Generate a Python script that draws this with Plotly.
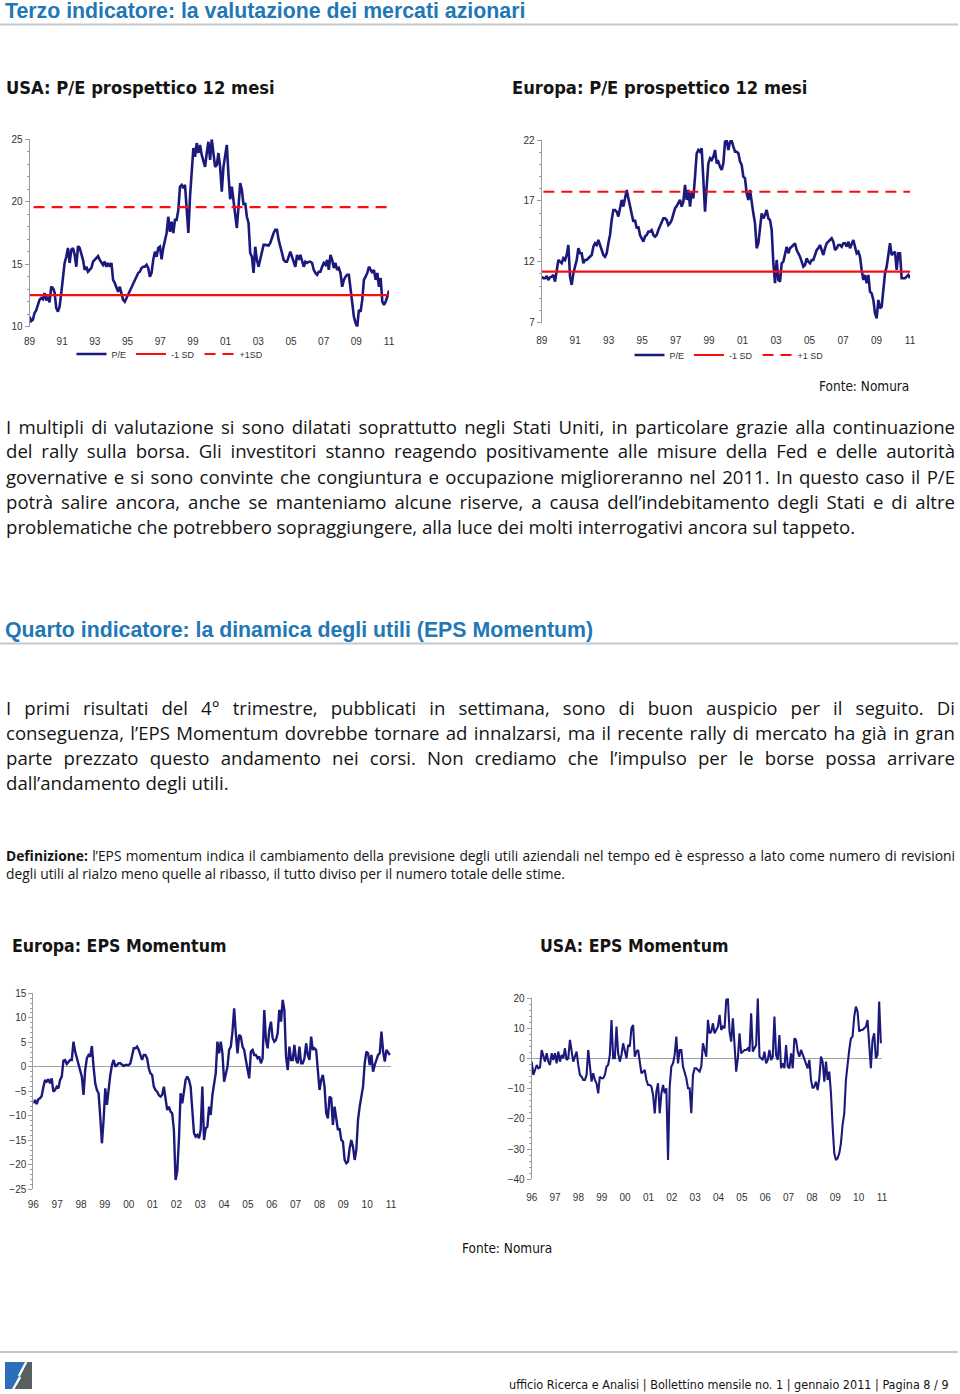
import json
import re
import numpy as np
import plotly.graph_objects as go

W, H = 960, 1394


def px(x):
    return x / W


def py(y):
    return 1 - y / H


# ---------------- DATA ----------------
# USA forward 12m P/E, Jan 1989 - Dec 2010
usa_pe = [
    10.8, 10.45, 10.55, 11.1, 11.3, 11.7, 12.15, 12.3, 12.2, 12.7,
    12.1, 12.4, 11.95, 13.2, 13.1, 12.75, 11.5, 11.2, 11.6, 12.7,
    13.75, 15.1, 15.6, 16.3, 15.1, 16.15, 16.3, 15.75, 14.8, 16.45,
    16.3, 15.9, 15.35, 14.55, 14.8, 14.4, 14.55, 14.7, 15.2, 15.35,
    15.5, 15.65, 15.35, 15.1, 14.95, 15.2, 14.8, 15.1, 14.8, 15.1,
    13.75, 13.5, 13.1, 12.8, 13.2, 12.7, 12.15, 12.0, 12.3, 12.55,
    12.8, 13.2, 13.5, 13.75, 14.0, 14.3, 14.4, 14.7, 14.8, 14.8,
    14.95, 14.7, 14.0, 14.3, 15.35, 16.0, 15.6, 16.3, 16.4, 15.4,
    16.3, 16.95, 17.5, 18.8, 17.6, 18.4, 17.5, 18.55, 18.55, 19.35,
    21.2, 21.35, 21.1, 21.35, 19.35, 17.5, 20.4, 22.3, 24.3, 23.6,
    24.7, 23.9, 24.55, 23.75, 23.35, 22.8, 23.9, 24.8, 23.35, 25.0,
    23.9, 22.8, 22.95, 23.9, 22.8, 20.8, 22.8, 23.6, 24.55, 22.15,
    20.2, 21.2, 20.15, 19.1, 17.9, 19.6, 21.5, 20.95, 19.75, 19.9,
    18.8, 18.3, 15.9, 15.6, 14.3, 16.4, 15.35, 14.8, 15.35, 15.9,
    16.55, 16.55, 16.55, 16.5, 16.7, 17.2, 17.5, 17.75, 17.75, 16.95,
    16.3, 15.9, 15.35, 15.2, 15.2, 15.6, 16.0, 15.6, 15.1, 14.8,
    15.75, 15.35, 15.75, 15.2, 14.8, 15.2, 15.1, 15.2, 15.2, 15.1,
    14.55, 14.3, 14.15, 14.4, 14.4, 14.8, 15.1, 14.95, 15.35, 14.55,
    15.75, 15.35, 14.7, 15.1, 14.55, 14.7, 14.3, 13.2, 13.75, 14.0,
    14.15, 14.15, 12.95, 11.6, 10.8, 10.3, 10.0, 11.35, 11.2, 12.15,
    13.75, 14.0, 14.3, 14.8, 14.55, 14.3, 14.55, 13.75, 14.3, 13.2,
    13.9, 12.0, 11.75, 12.0, 12.4, 12.9,
]
usa_minus_sd = 12.53
usa_plus_sd = 19.57

# Europe forward 12m P/E, Jan 1989 - Dec 2010
eur_pe = [
    10.78, 10.65, 10.65, 10.84, 10.51, 10.72, 10.78, 10.92, 10.37, 11.19,
    12.15, 12.01, 11.88, 12.29, 12.15, 12.56, 13.38, 10.78, 10.1, 11.06,
    11.6, 12.15, 13.11, 12.7, 12.7, 11.88, 12.15, 12.15, 12.29, 12.42,
    12.56, 13.24, 13.52, 13.38, 13.79, 13.38, 12.97, 12.56, 12.42, 12.7,
    13.52, 14.2, 15.43, 16.25, 16.25, 16.12, 15.71, 16.39, 17.08, 16.53,
    17.21, 17.9, 17.21, 16.53, 15.98, 15.3, 15.43, 14.75, 14.89, 14.2,
    13.93, 13.66, 14.07, 14.2, 14.48, 14.48, 14.61, 14.2, 14.07, 14.2,
    14.61, 14.89, 15.3, 15.57, 15.57, 15.43, 15.02, 15.16, 15.43, 15.98,
    16.39, 16.58, 16.8, 17.08, 16.53, 16.94, 18.31, 17.08, 17.9, 16.53,
    17.76, 17.21, 18.99, 20.91, 21.18, 21.04, 21.32, 18.72, 16.12, 18.17,
    20.08, 20.5, 20.36, 20.63, 21.18, 20.08, 20.22, 19.81, 19.54, 20.08,
    21.86, 21.95, 21.18, 21.86, 21.95, 21.45, 21.04, 21.04, 20.91, 20.22,
    19.95, 18.99, 18.85, 17.62, 17.08, 17.9, 16.66, 15.98, 15.16, 13.11,
    13.52, 14.89, 15.98, 15.57, 15.84, 16.25, 15.57, 15.43, 14.61, 11.88,
    10.24, 12.15, 10.51, 10.37, 11.88, 12.01, 12.7, 13.24, 12.7, 13.11,
    13.24, 13.38, 13.52, 12.97, 12.7, 12.42, 12.01, 11.6, 11.74, 12.29,
    12.01, 11.88, 12.15, 12.15, 12.56, 12.97, 13.11, 13.38, 12.97, 12.56,
    13.11, 13.52, 13.66, 13.79, 13.93, 13.66, 12.97, 13.11, 13.38, 13.38,
    13.24, 13.52, 13.52, 13.24, 13.66, 13.11, 13.52, 13.79, 13.24, 12.7,
    12.83, 12.42, 11.33, 10.51, 10.92, 10.24, 10.92, 9.55, 9.41, 8.87,
    7.77, 7.36, 8.87, 8.18, 8.32, 9.69, 11.06, 11.6, 12.42, 13.52,
    12.56, 12.7, 12.83, 11.33, 12.7, 12.7, 10.65, 10.65, 10.65, 10.78,
    10.92, 10.65,
]
eur_minus_sd = 11.2
eur_plus_sd = 17.75

# Europe EPS momentum, 1996 - 2010
eps_eur = [
    -7.45, -6.77, -7.59, -6.63, -6.43, -5.95, -4.18, -2.69, -3.03, -2.55,
    -3.37, -2.35, -5.07, -4.73, -4.05, -4.39, -2.69, -2.01, 1.26, 1.39,
    0.58, 1.05, 1.39, 1.39, 5.14, 3.1, 1.73, 0.37, -0.99, -2.01,
    -5.75, -0.65, 1.73, 2.41, 2.07, 4.25, 0.03, -3.37, -4.73, -5.41,
    -10.17, -15.61, -10.85, -4.39, -7.79, -4.05, -1.67, 0.37, 1.39, 0.03,
    0.37, 0.71, 0.71, 0.37, 0.17, 0.37, 0.37, 0.37, 0.71, 2.07,
    3.78, 3.78, 4.12, 3.44, 2.41, 1.39, 2.41, 2.41, 1.73, -0.31,
    -1.33, -1.67, -4.05, -4.73, -5.07, -5.75, -6.09, -5.75, -4.05, -6.09,
    -8.81, -8.13, -9.15, -9.49, -12.89, -23.1, -21.4, -14.9, -5.4, -7.45,
    -4.73, -2.69, -2.01, -2.69, -4.05, -9.49, -13.57, -14.25, -13.91, -14.59,
    -12.89, -4.05, -14.93, -12.55, -12.21, -8.13, -9.83, -5.75, -3.37, -1.33,
    5.14, 2.76, 5.14, 2.76, -3.03, -1.33, 0.03, 3.44, 4.12, 7.18,
    11.94, 6.84, 2.76, 6.5, 6.16, 4.12, 3.44, 1.39, -0.65, -2.35,
    3.1, 3.44, 2.41, 2.41, 1.73, 2.07, 0.71, 1.73, 11.6, 5.48,
    3.78, 7.52, 9.22, 5.82, 5.14, 5.48, 6.84, 11.6, 9.22, 13.64,
    11.6, 2.07, -0.65, 4.12, 1.39, 1.39, 4.46, 1.39, 0.71, 4.12,
    0.71, 0.71, 1.73, 4.8, 2.41, 1.39, 6.16, 3.44, 3.78, 3.44,
    -0.65, -4.73, -2.69, -1.67, -4.05, -9.49, -10.51, -6.09, -6.43, -11.87,
    -8.13, -10.17, -12.89, -12.55, -14.93, -15.27, -19.01, -19.69, -19.35, -16.63,
    -14.93, -16.29, -19.01, -16.97, -10.85, -8.13, -6.43, -4.05, 0.71, 3.1,
    2.76, 0.37, 2.41, -0.99, 0.37, 1.39, 2.41, 2.76, 7.18, 3.1,
    1.05, 3.44, 2.76, 2.41,
]

# USA EPS momentum, 1996 - 2010
eps_usa = [
    -0.99, -5.41, -3.76, -2.1, -3.2, -2.87, 2.87, 0.66, -0.99, 1.77,
    -0.99, -2.1, 1.77, -0.44, 1.77, -1.55, 2.32, -0.99, 1.22, 0.11,
    3.43, -0.44, 0.11, 6.19, 1.77, -0.99, 0.66, 2.32, -2.1, -5.41,
    -5.97, -7.07, -7.07, -5.41, 2.87, -3.76, -7.62, -4.86, -7.07, -8.18,
    -11.49, -5.97, -6.52, -6.52, -5.41, -2.65, -2.1, 1.22, 12.82, 0.11,
    0.11, 10.61, 1.77, -0.99, 1.22, 5.08, 2.32, 0.11, 4.53, 3.98,
    10.06, 11.16, 0.66, 2.32, 2.87, -2.1, -4.86, -4.31, -3.76, -7.07,
    -8.73, -8.73, -9.28, -12.04, -18.12, -10.94, -8.18, -18.12, -11.49, -8.73,
    -11.49, -9.83, -33.59, -9.28, -2.65, -1.55, 1.22, 7.29, -1.55, 2.87,
    2.87, -2.65, -4.86, -6.52, -9.83, -9.83, -18.12, -5.41, -3.2, -3.2,
    -3.76, -4.31, -2.65, 5.08, 2.87, 0.66, 12.82, 8.4, 8.95, 11.71,
    8.4, 9.5, 10.61, 14.48, 9.5, 10.61, 10.06, 19.45, 20.0, 8.95,
    5.64, 13.37, 4.53, -4.31, 0.11, 8.4, 1.77, 2.32, 2.87, 2.87,
    3.43, 2.32, 15.03, 2.32, 3.43, 4.53, 20.0, 0.66, 0.11, -0.44,
    2.32, -1.55, -0.44, 2.87, -0.44, 0.66, 13.92, 1.22, -0.44, 7.85,
    -3.2, -1.55, -3.2, 4.53, -2.65, -3.2, 1.77, -3.2, 6.74, 6.19,
    2.32, 0.66, 2.87, 1.22, -0.44, -1.55, -3.2, -0.44, -7.07, -9.83,
    -9.28, -7.62, -10.39, -6.52, 0.66, -0.99, -7.62, -0.99, -7.07, -4.31,
    -11.49, -22.54, -31.38, -33.59, -33.04, -31.38, -28.07, -21.99, -18.12, -7.07,
    -1.55, 2.87, 6.74, 7.29, 13.92, 17.24, 15.58, 8.95, 9.5, 9.5,
    10.06, 10.61, 12.82, 3.98, -3.2, 6.19, 8.4, 0.11, 1.22, 18.9,
    5.08,
]

pe_tick_years = [1989, 1991, 1993, 1995, 1997, 1999, 2001, 2003, 2005, 2007, 2009, 2011]
pe_tick_labels = ["89", "91", "93", "95", "97", "99", "01", "03", "05", "07", "09", "11"]
eps_tick_years = list(range(1996, 2012))
eps_tick_labels = ["96", "97", "98", "99", "00", "01", "02", "03", "04", "05",
                   "06", "07", "08", "09", "10", "11"]

pe_start, pe_end = 1989.0, 2011.0
eps_start, eps_end = 1996.0, 2010.95

x_usa = np.linspace(pe_start, pe_end, len(usa_pe))
x_eur = np.linspace(pe_start, pe_end, len(eur_pe))
x_eps_eur = np.linspace(eps_start, eps_end, len(eps_eur))
x_eps_usa = np.linspace(eps_start, eps_end, len(eps_usa))

# ---------------- STYLE ----------------
NAVY = "#1b1a7c"
RED = "#fb0d0d"
AXIS = "#9c9c9c"
ARIAL = "Liberation Sans, Arial, sans-serif"
BODY = "Open Sans, Noto Sans, sans-serif"
HEAD = "DejaVu Sans Condensed, DejaVu Sans, sans-serif"
BLUE = "#2277b6"
TICKFONT = dict(family=ARIAL, size=10, color="#333333")

fig = go.Figure()

# USA P/E
fig.add_trace(go.Scatter(x=x_usa, y=usa_pe, mode="lines", name="P/E",
                         line=dict(color=NAVY, width=2.6), xaxis="x", yaxis="y",
                         legend="legend"))
fig.add_trace(go.Scatter(x=[x_usa[0], x_usa[-1]], y=[usa_minus_sd] * 2, mode="lines",
                         name="-1 SD", line=dict(color=RED, width=2.2), xaxis="x",
                         yaxis="y", legend="legend"))
fig.add_trace(go.Scatter(x=[x_usa[0] + 0.25, x_usa[-1]], y=[usa_plus_sd] * 2, mode="lines",
                         name="+1SD", line=dict(color=RED, width=2.2, dash="11px,7px"),
                         xaxis="x", yaxis="y", legend="legend"))

# Europe P/E
fig.add_trace(go.Scatter(x=x_eur, y=eur_pe, mode="lines", name="P/E",
                         line=dict(color=NAVY, width=2.6), xaxis="x2", yaxis="y2",
                         legend="legend2"))
fig.add_trace(go.Scatter(x=[x_eur[0], x_eur[-1]], y=[eur_minus_sd] * 2, mode="lines",
                         name="-1 SD", line=dict(color=RED, width=2.2), xaxis="x2",
                         yaxis="y2", legend="legend2"))
fig.add_trace(go.Scatter(x=[x_eur[0] + 0.1, x_eur[-1]], y=[eur_plus_sd] * 2, mode="lines",
                         name="+1 SD", line=dict(color=RED, width=2.2, dash="11px,7px"),
                         xaxis="x2", yaxis="y2", legend="legend2"))

# EPS momentum
fig.add_trace(go.Scatter(x=x_eps_eur, y=eps_eur, mode="lines", showlegend=False,
                         line=dict(color=NAVY, width=2.4), xaxis="x3", yaxis="y3"))
fig.add_trace(go.Scatter(x=x_eps_usa, y=eps_usa, mode="lines", showlegend=False,
                         line=dict(color=NAVY, width=2.1), xaxis="x4", yaxis="y4"))


def xax(l, r, years, labels, rng, anchor, gap):
    return dict(domain=[px(l), px(r)], range=rng, tickvals=years, ticktext=labels,
                showline=False, ticks="outside", ticklen=gap,
                tickcolor="rgba(0,0,0,0)", showgrid=False, zeroline=False,
                tickfont=TICKFONT, anchor=anchor, fixedrange=True, automargin=False)


def yax(t, b, rng, dtick, tick0, minor, anchor, zero=False):
    return dict(domain=[py(b), py(t)], range=rng, dtick=dtick, tick0=tick0,
                showline=True, linecolor=AXIS, linewidth=1, ticks="outside",
                ticklen=4, tickcolor=AXIS, showgrid=False, zeroline=zero,
                zerolinecolor="#a0a0a0", zerolinewidth=1, tickfont=TICKFONT,
                minor=dict(ticks="outside", ticklen=2, dtick=minor, tickcolor=AXIS,
                           showgrid=False),
                anchor=anchor, fixedrange=True, automargin=False)


layout = dict(
    width=W, height=H, margin=dict(l=0, r=0, t=0, b=0, pad=0, autoexpand=False),
    autosize=False,
    paper_bgcolor="white", plot_bgcolor="white", showlegend=True,
    xaxis=xax(29.5, 389, pe_tick_years, pe_tick_labels, [1989, 2011], "y", 5),
    yaxis=yax(139.3, 326.7, [10, 25], 5, 10, 1, "x"),
    xaxis2=xax(541.7, 910, pe_tick_years, pe_tick_labels, [1989, 2011], "y2", 8),
    yaxis2=yax(140, 322.7, [7, 22], 5, 7, 1, "x2"),
    xaxis3=xax(33.3, 391, eps_tick_years, eps_tick_labels, [1996, 2011], "y3", 6),
    yaxis3=yax(993.3, 1189.3, [-25, 15], 5, 0, 1, "x3", zero=True),
    xaxis4=xax(531.7, 882, eps_tick_years, eps_tick_labels, [1996, 2011], "y4", 9),
    yaxis4=yax(998.3, 1179.3, [-40, 20], 10, 0, 2, "x4", zero=True),
    legend=dict(orientation="h", x=px(170), y=py(354), xanchor="center",
                yanchor="middle", font=dict(family=ARIAL, size=9, color="#333333"),
                itemwidth=30, bgcolor="rgba(0,0,0,0)", tracegroupgap=0),
    legend2=dict(orientation="h", x=px(729), y=py(355), xanchor="center",
                 yanchor="middle", font=dict(family=ARIAL, size=9, color="#333333"),
                 itemwidth=30, bgcolor="rgba(0,0,0,0)", tracegroupgap=0),
    hovermode=False,
)
fig.update_layout(**layout)

# ---------------- TEXT ----------------
annotations = []


def txt(s, x, y, size, family=BODY, color="#141414", xanchor="left"):
    annotations.append(dict(text=s, x=px(x), y=py(y), xref="paper", yref="paper",
                            xanchor=xanchor, yanchor="middle", showarrow=False,
                            align="left", font=dict(family=family, size=size, color=color)))


txt("<b>Terzo indicatore: la valutazione dei mercati azionari</b>", 3, 11, 21.3, ARIAL, BLUE)
txt("<b>USA: P/E prospettico 12 mesi</b>", 4, 88, 18.2, HEAD)
txt("<b>Europa: P/E prospettico 12 mesi</b>", 510, 88, 18.2, HEAD)
txt("Fonte: Nomura", 911, 386, 13.5, HEAD, xanchor="right")

p1 = [
    "I multipli di valutazione si sono dilatati soprattutto negli Stati Uniti, in particolare grazie alla continuazione",
    "del rally sulla borsa. Gli investitori stanno reagendo positivamente alle misure della Fed e delle autorità",
    "governative e si sono convinte che congiuntura e occupazione miglioreranno nel 2011. In questo caso il P/E",
    "potrà salire ancora, anche se manteniamo alcune riserve, a causa dell’indebitamento degli Stati e di altre",
    "problematiche che potrebbero sopraggiungere, alla luce dei molti interrogativi ancora sul tappeto.",
]
p2 = [
    "I primi risultati del 4° trimestre, pubblicati in settimana, sono di buon auspicio per il seguito. Di",
    "conseguenza, l’EPS Momentum dovrebbe tornare ad innalzarsi, ma il recente rally di mercato ha già in gran",
    "parte prezzato questo andamento nei corsi. Non crediamo che l’impulso per le borse possa arrivare",
    "dall’andamento degli utili.",
]
defin = [
    "<b>Definizione:</b> l’EPS momentum indica il cambiamento della previsione degli utili aziendali nel tempo ed è espresso a lato come numero di revisioni",
    "degli utili al rialzo meno quelle al ribasso, il tutto diviso per il numero totale delle stime.",
]

justify = {}
for i, line in enumerate(p1):
    txt(line, 4, 426 + 25 * i, 18.6)
    if i < len(p1) - 1:
        justify[line] = 949
txt("<b>Quarto indicatore: la dinamica degli utili (EPS Momentum)</b>", 3, 630, 21.3, ARIAL, BLUE)
for i, line in enumerate(p2):
    txt(line, 4, 707 + 25 * i, 18.6)
    if i < len(p2) - 1:
        justify[line] = 949
for i, line in enumerate(defin):
    txt(line, 4, 855 + 18 * i, 13.8)
    if i == 0:
        justify[re.sub(r"<[^>]+>", "", line)] = 949

txt("<b>Europa: EPS Momentum</b>", 10, 946, 17.6, HEAD)
txt("<b>USA: EPS Momentum</b>", 538, 946, 17.6, HEAD)
txt("Fonte: Nomura", 507, 1248, 13.5, HEAD, xanchor="center")
txt("ufficio Ricerca e Analisi | Bollettino mensile no. 1 | gennaio 2011 | Pagina 8 / 9",
    951, 1384, 12.5, HEAD, xanchor="right")

fig.update_layout(annotations=annotations)

# ---------------- DECORATION ----------------
shapes = []


def hline(y, x0, x1, color, width):
    shapes.append(dict(type="line", xref="paper", yref="paper", x0=px(x0), x1=px(x1),
                       y0=py(y), y1=py(y), line=dict(color=color, width=width)))


hline(24.5, 0, 958, "#c4c8cc", 2)
hline(643.5, 0, 958, "#c4c8cc", 2)
hline(1352, 0, 958, "#8c8c8c", 1.2)


def poly(pts, color):
    path = "M " + " L ".join(f"{px(a):.5f},{py(b):.5f}" for a, b in pts) + " Z"
    shapes.append(dict(type="path", xref="paper", yref="paper", path=path,
                       fillcolor=color, line=dict(width=0)))


poly([(5, 1362), (25, 1362), (17.5, 1376), (19.5, 1375.5), (12, 1389), (5, 1389)], "#2a6fb8")
poly([(27.5, 1362), (32, 1362), (32, 1389), (14.5, 1389), (21.5, 1377), (19.5, 1377.5)], "#55605f")
fig.update_layout(shapes=shapes)

post = """
(function(){
  document.documentElement.style.margin = '0';
  document.documentElement.style.padding = '0';
  document.documentElement.style.overflow = 'hidden';
  document.body.style.margin = '0';
  document.body.style.padding = '0';
  var gd = document.getElementById('{plot_id}');
  var T = %s;
  function run(){
    var els = gd.querySelectorAll('text.annotation-text');
    for (var i = 0; i < els.length; i++) {
      var el = els[i];
      var k = el.textContent;
      if (Object.prototype.hasOwnProperty.call(T, k)) {
        el.style.wordSpacing = '0px';
        var w = el.getComputedTextLength();
        var n = (k.match(/ /g) || []).length;
        if (n > 0) { el.style.wordSpacing = ((T[k] - w) / n).toFixed(3) + 'px'; }
      }
    }
  }
  run();
  if (gd.on) { gd.on('plotly_afterplot', run); }
})();
""" % json.dumps(justify)

fig.write_html("out.html", config={"displayModeBar": False, "staticPlot": True},
               post_script=post)
